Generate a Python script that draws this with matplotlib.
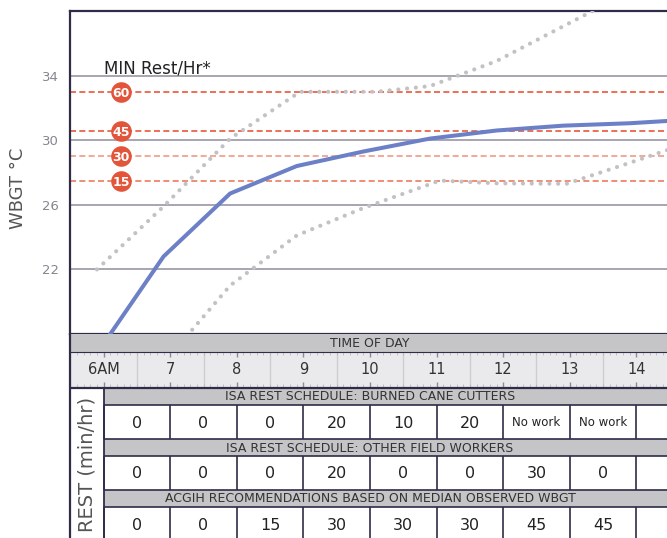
import matplotlib
matplotlib.use("Agg")
import matplotlib.pyplot as plt
import numpy as np
from matplotlib.patches import Rectangle

# WBGT through the day (hour of day, deg C)
median_hour = [5.9, 6.9, 7.9, 8.9, 9.9, 10.9, 11.9, 12.9, 13.9, 14.9]
median_wbgt = [16.8, 22.8, 26.7, 28.4, 29.3, 30.1, 30.6, 30.9, 31.05, 31.3]
upper_hour = [5.9, 6.9, 7.9, 8.95, 10.1, 10.9, 11.9, 12.9, 13.9]
upper_wbgt = [22.0, 25.9, 30.1, 33.0, 33.0, 33.35, 34.9, 37.05, 39.2]
lower_hour = [6.9, 7.9, 8.9, 9.9, 11.05, 11.9, 12.95, 13.9, 14.9]
lower_wbgt = [16.2, 21.0, 24.1, 25.8, 27.5, 27.33, 27.3, 28.6, 30.0]

# ACGIH thresholds: minutes of rest per hour -> WBGT
rest_minutes = [60, 45, 30, 15]
rest_limits = [33.0, 30.6, 29.0, 27.5]
rest_colors = ["#e8583c", "#e8583c", "#f09a85", "#ec7a5e"]

# schedule table
hours = [6, 7, 8, 9, 10, 11, 12, 13]
hour_labels = ["6AM", "7", "8", "9", "10", "11", "12", "13", "14"]
sections = ["ISA REST SCHEDULE: BURNED CANE CUTTERS",
            "ISA REST SCHEDULE: OTHER FIELD WORKERS",
            "ACGIH RECOMMENDATIONS BASED ON MEDIAN OBSERVED WBGT"]
rest_burned = ["0", "0", "0", "20", "10", "20", "No work", "No work"]
rest_other = ["0", "0", "0", "20", "0", "0", "30", "0"]
rest_acgih = ["0", "0", "15", "30", "30", "30", "45", "45"]

DARK = "#2e2c48"
GRID = "#9896a6"
HEAD = "#c5c5c8"

W, H = 667, 538
fig = plt.figure(figsize=(W / 100, H / 100), dpi=100)
xlim = (5.495, 14.46)

ax = fig.add_axes([70 / W, (H - 334) / H, 597 / W, 323 / H])
ax.set_xlim(*xlim)
ax.set_ylim(18, 38)
ax.spines["right"].set_visible(False)
for s in ["left", "top", "bottom"]:
    ax.spines[s].set_color(DARK)
    ax.spines[s].set_linewidth(1.6)
ax.set_xticks([])
ax.set_yticks([22, 26, 30, 34])
ax.tick_params(axis="y", length=0, pad=8, labelsize=9.5, labelcolor="#85858f")
for y in [22, 26, 30, 34]:
    ax.axhline(y, color=GRID, lw=1.2, zorder=1)

for lim, c in zip(rest_limits, rest_colors):
    ax.axhline(lim, color=c, lw=1.2, ls=(0, (3.6, 2.0)), zorder=2)
ax.scatter([6.26] * 4, rest_limits, s=220, color="#e2553a", zorder=5, linewidths=0)
for m, lim in zip(rest_minutes, rest_limits):
    ax.text(6.26, lim, str(m), color="white", fontsize=9, fontweight="bold",
            ha="center", va="center_baseline", zorder=6)
ax.text(6.0, 34.12, "MIN Rest/Hr*", fontsize=12, color="#222222", va="baseline")

dots = dict(color="#c2c2c4", lw=3.0, ls=(0, (0.01, 2.1)), dash_capstyle="round", zorder=3)
ax.plot(upper_hour, upper_wbgt, **dots)
ax.plot(lower_hour, lower_wbgt, **dots)
ax.plot(median_hour, median_wbgt, color="#6b80c6", lw=2.9, zorder=4, solid_capstyle="butt")

fig.text(18 / W, 1 - 188 / H, "WBGT °C", rotation=90, fontsize=13, color="#555555",
         ha="center", va="center")

# table underneath, y in image pixels
tax = fig.add_axes([70 / W, 0, 597 / W, 204 / H])
tax.set_xlim(*xlim)
tax.set_ylim(538, 334)
tax.axis("off")
x0, x1 = xlim[0], xlim[1] + 1

tax.add_patch(Rectangle((x0, 334), x1 - x0, 18, color=HEAD, lw=0))
tax.text(10, 343.5, "TIME OF DAY", ha="center", va="center", fontsize=9, color="#333333")
tax.add_patch(Rectangle((x0, 352), x1 - x0, 35, color="#eaeaec", lw=0))
for h in np.arange(5.5, 15.0, 1.0):
    tax.vlines(h, 352, 387, color="#cdcdd2", lw=1)
for t in np.arange(5.5, 15.0, 0.1):
    tax.vlines(t, 352, 355, color="#b8b8be", lw=0.6)
    tax.vlines(t, 384, 387, color="#b8b8be", lw=0.6)
for i, lab in enumerate(hour_labels):
    h = 6 + i
    tax.vlines(h, 352, 357, color="#8c8c96", lw=1)
    tax.vlines(h, 382, 387, color="#8c8c96", lw=1)
    tax.text(h, 370, lab, ha="center", va="center", fontsize=10.5, color="#333333")
tax.hlines(352, x0, x1, color=DARK, lw=0.8)
tax.hlines(387.5, x0, x1, color=DARK, lw=1.6)

tax.vlines(x0, 334, 538, color=DARK, lw=1.6, clip_on=False)
tax.vlines(6.0, 388, 538, color=DARK, lw=1.3)
tax.text(5.75, 464, "REST (min/hr)", rotation=90, ha="center", va="center",
         fontsize=14, color="#555555")

rows = [(388, 405, 439, rest_burned), (439, 456, 490, rest_other), (490, 507, 541, rest_acgih)]
for title, (top, mid, bot, vals) in zip(sections, rows):
    tax.add_patch(Rectangle((6.0, top), x1 - 6.0, mid - top, color=HEAD, lw=0))
    tax.text(10, (top + mid) / 2 + 0.5, title, ha="center", va="center", fontsize=9,
             color="#333333")
    tax.hlines([top, mid], 6.0, x1, color=DARK, lw=1.2)
    for h in range(6, 16):
        tax.vlines(h, mid, bot, color=DARK, lw=1.2)
    for h, v in zip(hours, vals):
        fs = 8.5 if v == "No work" else 11.5
        tax.text(h + 0.5, (mid + bot) / 2 + 1, v, ha="center", va="center", fontsize=fs,
                 color="#222222")

fig.savefig("out.png", dpi=100)
